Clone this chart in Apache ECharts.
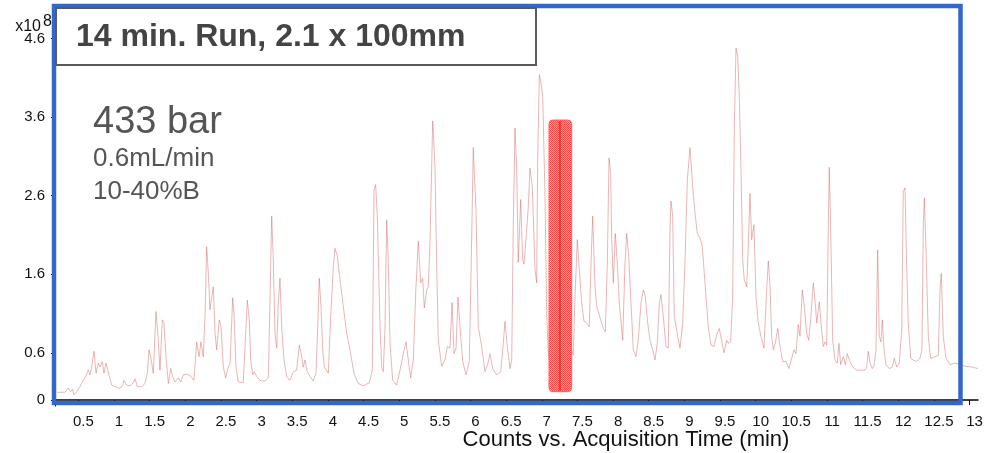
<!DOCTYPE html>
<html>
<head>
<meta charset="utf-8">
<script src="https://cdn.jsdelivr.net/npm/echarts@6/dist/echarts.min.js"></script>
<style>
  html, body { margin: 0; padding: 0; background: #ffffff; }
  #chart { width: 986px; height: 453px; }
</style>
</head>
<body>
<div id="chart"></div>
<script>
// Tick positions (minutes) and their labels on the time axis
const xTickValues = [0.5, 1, 1.5, 2, 2.5, 3, 3.5, 4, 4.5, 5, 5.5, 6, 6.5, 7, 7.5, 8, 8.5, 9, 9.5, 10, 10.5, 11, 11.5, 12, 12.5, 13];
// Intensity ticks, in units of 10^8 counts
const yTickValues = [0, 0.6, 1.6, 2.6, 3.6, 4.6];

// Total ion chromatogram: [retention time (min), counts x 10^8]
const tic = [
  [0.205,0.097],[0.313,0.10],[0.359,0.15],[0.393,0.106],[0.421,0.136],[0.439,0.064],[0.477,0.106],[0.523,0.17],
  [0.569,0.25],[0.607,0.306],[0.640,0.38],[0.663,0.32],[0.687,0.42],[0.720,0.62],[0.748,0.34],[0.780,0.47],
  [0.804,0.42],[0.836,0.49],[0.860,0.34],[0.888,0.47],[0.906,0.446],[0.934,0.30],[0.968,0.19],[1.014,0.17],
  [1.084,0.145],[1.122,0.19],[1.140,0.25],[1.178,0.19],[1.224,0.178],[1.271,0.22],[1.295,0.27],[1.327,0.17],
  [1.388,0.17],[1.435,0.21],[1.467,0.34],[1.491,0.64],[1.515,0.55],[1.551,0.34],[1.589,1.125],[1.621,0.76],
  [1.645,0.38],[1.677,1.02],[1.701,0.98],[1.729,0.55],[1.762,0.21],[1.795,0.40],[1.823,0.30],[1.856,0.23],
  [1.902,0.28],[1.935,0.23],[1.972,0.32],[2.020,0.33],[2.066,0.31],[2.122,0.25],[2.160,0.74],[2.192,0.55],
  [2.220,0.74],[2.252,0.55],[2.276,1.06],[2.300,1.95],[2.323,1.61],[2.346,1.15],[2.393,1.44],[2.417,0.85],
  [2.440,0.64],[2.477,1.02],[2.501,0.93],[2.533,0.42],[2.567,0.28],[2.603,0.42],[2.627,0.47],[2.665,1.30],
  [2.683,1.10],[2.711,0.42],[2.743,0.23],[2.813,0.22],[2.842,0.76],[2.870,1.27],[2.898,1.02],[2.917,0.51],
  [2.945,0.32],[2.968,0.36],[3.001,0.30],[3.048,0.25],[3.118,0.24],[3.164,0.28],[3.188,1.27],[3.212,2.34],
  [3.234,1.78],[3.258,0.85],[3.282,0.66],[3.304,1.23],[3.328,1.55],[3.352,0.93],[3.384,0.51],[3.422,0.30],
  [3.468,0.25],[3.515,0.36],[3.562,0.38],[3.599,0.70],[3.633,0.55],[3.655,0.42],[3.679,0.51],[3.711,0.36],
  [3.749,0.30],[3.795,0.24],[3.833,0.34],[3.857,0.93],[3.879,1.55],[3.903,1.19],[3.927,0.64],[3.950,0.42],
  [4.006,0.34],[4.039,1.06],[4.076,1.70],[4.100,1.93],[4.132,1.83],[4.170,1.53],[4.216,1.19],[4.264,0.85],
  [4.310,0.64],[4.366,0.34],[4.426,0.21],[4.497,0.18],[4.581,0.22],[4.623,0.38],[4.647,2.67],[4.670,2.74],
  [4.693,2.34],[4.717,1.49],[4.731,0.93],[4.755,0.42],[4.777,0.36],[4.801,0.93],[4.825,2.29],[4.847,1.78],
  [4.871,0.72],[4.909,0.25],[4.965,0.19],[5.011,0.38],[5.058,0.59],[5.095,0.74],[5.128,0.51],[5.161,0.28],
  [5.198,0.51],[5.231,1.36],[5.268,2.02],[5.302,1.49],[5.330,1.55],[5.352,1.17],[5.386,1.40],[5.408,1.44],
  [5.432,2.0],[5.470,3.55],[5.502,2.97],[5.526,1.70],[5.548,0.76],[5.596,0.43],[5.642,0.51],[5.675,0.68],
  [5.712,0.66],[5.741,1.24],[5.769,0.59],[5.797,0.66],[5.825,1.31],[5.853,0.93],[5.891,0.49],[5.937,0.32],
  [5.983,0.49],[6.017,2.08],[6.039,3.21],[6.077,2.42],[6.109,0.93],[6.157,0.68],[6.203,0.36],[6.241,0.45],
  [6.273,0.59],[6.311,0.40],[6.367,0.32],[6.424,0.36],[6.452,0.64],[6.484,1.0],[6.516,0.68],[6.554,0.40],
  [6.578,0.51],[6.600,2.21],[6.624,3.46],[6.648,2.93],[6.670,1.75],[6.704,2.55],[6.732,1.78],[6.750,1.73],
  [6.778,2.04],[6.811,2.46],[6.834,2.95],[6.867,2.72],[6.905,1.66],[6.928,1.49],[6.942,3.01],[6.965,4.14],
  [6.989,4.03],[7.013,3.86],[7.045,2.59],[7.069,1.10],[7.091,0.59],[7.129,0.40],[7.185,0.45],[7.241,0.9],
  [7.290,2.0],[7.325,2.34],[7.353,1.5],[7.395,0.7],[7.442,0.57],[7.466,1.32],[7.498,2.04],[7.526,1.66],
  [7.560,1.23],[7.592,1.0],[7.630,0.98],[7.666,0.93],[7.690,1.74],[7.714,2.34],[7.746,1.44],[7.770,1.19],
  [7.792,1.21],[7.826,1.02],[7.863,0.91],[7.891,0.87],[7.919,1.74],[7.943,3.08],[7.966,2.89],[7.980,2.08],
  [8.003,1.49],[8.031,2.12],[8.059,1.74],[8.087,1.23],[8.135,0.76],[8.167,1.74],[8.191,2.12],[8.219,1.83],
  [8.247,1.32],[8.283,0.64],[8.321,0.55],[8.353,0.76],[8.391,1.23],[8.424,1.40],[8.452,1.32],[8.480,1.02],
  [8.518,0.76],[8.555,0.64],[8.588,0.51],[8.620,0.72],[8.648,1.23],[8.672,1.34],[8.704,1.06],[8.742,0.68],
  [8.774,0.66],[8.798,2.17],[8.812,2.53],[8.836,2.34],[8.858,1.06],[8.906,0.81],[8.938,0.66],[8.976,0.98],
  [9.008,1.74],[9.041,2.80],[9.079,3.21],[9.116,2.72],[9.149,2.38],[9.181,2.12],[9.219,2.06],[9.251,1.95],
  [9.289,1.49],[9.335,0.93],[9.373,0.70],[9.415,0.68],[9.453,0.83],[9.489,0.91],[9.523,0.76],[9.555,0.60],
  [9.593,0.76],[9.616,0.72],[9.649,0.74],[9.677,1.32],[9.700,3.44],[9.724,4.48],[9.748,4.37],[9.770,3.86],
  [9.794,2.93],[9.818,1.78],[9.840,1.53],[9.874,1.44],[9.896,1.95],[9.920,2.63],[9.944,2.04],[9.976,2.23],
  [10.004,1.32],[10.036,0.98],[10.074,0.81],[10.116,0.66],[10.154,1.40],[10.177,1.77],[10.201,1.44],[10.224,0.81],
  [10.247,0.64],[10.275,0.72],[10.309,0.91],[10.341,0.68],[10.379,0.49],[10.425,0.49],[10.463,0.40],[10.505,0.53],
  [10.537,0.64],[10.565,0.59],[10.597,0.96],[10.621,0.81],[10.654,1.40],[10.682,1.19],[10.715,0.85],[10.743,0.76],
  [10.771,1.02],[10.808,1.49],[10.836,1.23],[10.856,0.98],[10.892,1.25],[10.916,0.98],[10.948,0.68],[10.972,0.74],
  [10.996,0.70],[11.018,2.17],[11.032,2.96],[11.052,2.17],[11.080,0.76],[11.112,0.51],[11.144,0.47],[11.168,0.72],
  [11.192,0.45],[11.229,0.55],[11.257,0.45],[11.285,0.59],[11.313,0.51],[11.361,0.42],[11.416,0.38],[11.439,0.38],
  [11.533,0.38],[11.557,0.42],[11.579,0.62],[11.603,0.47],[11.635,0.40],[11.663,0.45],[11.687,0.64],[11.711,1.91],
  [11.733,0.81],[11.757,0.74],[11.776,1.02],[11.800,0.64],[11.828,0.45],[11.874,0.40],[11.916,0.42],[11.944,0.53],
  [11.978,0.42],[12.014,0.47],[12.048,0.89],[12.070,2.65],[12.094,2.70],[12.118,1.70],[12.140,0.98],[12.174,0.53],
  [12.210,0.51],[12.258,0.49],[12.304,0.53],[12.332,0.64],[12.351,2.25],[12.365,2.57],[12.389,1.91],[12.421,0.81],
  [12.454,0.53],[12.515,0.55],[12.561,0.57],[12.585,1.40],[12.603,1.61],[12.631,0.81],[12.669,0.53],[12.725,0.45],
  [12.795,0.47],[12.866,0.45],[12.935,0.43],[13.029,0.42],[13.118,0.40]
];

// Highlighted time window: [start min, end min, low, high, centre min]
const markedWindow = [[7.101, 7.419, 0.106, 3.562, 7.255]];

const titleText = '14 min. Run, 2.1 x 100mm';
const methodLines = ['433 bar', '0.6mL/min', '10-40%B'];
const xAxisTitle = 'Counts vs. Acquisition Time (min)';

const FONT = '"Liberation Sans", Arial, Helvetica, sans-serif';

// Small checker used to fill the highlighted window
function dotPattern() {
  const c = document.createElement('canvas');
  c.width = 2; c.height = 2;
  const g = c.getContext('2d');
  g.fillStyle = '#ffa6a6';
  g.fillRect(0, 0, 2, 2);
  g.fillStyle = '#ff3a3a';
  g.fillRect(0, 0, 1, 1);
  g.fillRect(1, 1, 1, 1);
  return c;
}
const dots = dotPattern();

const chart = echarts.init(document.getElementById('chart'), null, { renderer: 'canvas' });

chart.setOption({
  animation: false,
  backgroundColor: '#ffffff',
  grid: { left: 55, right: 8, top: 7, bottom: 47, containLabel: false },
  xAxis: {
    type: 'value',
    min: 0.1725,
    max: 13.118,
    axisLine: { show: true, lineStyle: { color: '#000', width: 1.5 } },
    axisTick: { show: true, customValues: xTickValues, length: 5, lineStyle: { color: '#000', width: 1 } },
    axisLabel: {
      customValues: xTickValues,
      color: '#111',
      fontFamily: FONT,
      fontSize: 15,
      margin: 8,
      padding: [0, 0, 0, 10]
    },
    splitLine: { show: false }
  },
  yAxis: {
    type: 'value',
    min: -0.0763,
    max: 5.0,
    axisLine: { show: true, lineStyle: { color: '#000', width: 1 } },
    axisTick: { show: true, customValues: yTickValues, length: 4, lineStyle: { color: '#000', width: 1 } },
    axisLabel: {
      customValues: yTickValues,
      color: '#111',
      fontFamily: FONT,
      fontSize: 15,
      margin: 10
    },
    splitLine: { show: false }
  },
  series: [
    {
      type: 'line',
      name: 'TIC',
      data: tic,
      showSymbol: false,
      symbol: 'none',
      smooth: false,
      z: 2,
      lineStyle: { color: 'rgba(210, 90, 90, 0.45)', width: 1 }
    },
    {
      type: 'custom',
      name: 'window',
      data: markedWindow,
      z: 5,
      renderItem: function (params, api) {
        const tl = api.coord([api.value(0), api.value(3)]);
        const br = api.coord([api.value(1), api.value(2)]);
        const mid = api.coord([api.value(4), api.value(3)]);
        return {
          type: 'group',
          children: [
            {
              type: 'rect',
              shape: { x: tl[0], y: tl[1], width: br[0] - tl[0], height: br[1] - tl[1], r: 4 },
              style: { fill: { image: dots, repeat: 'repeat' }, stroke: '#ff5a5a', lineWidth: 1, opacity: 0.95 }
            },
            {
              type: 'line',
              shape: { x1: mid[0], y1: tl[1] + 1, x2: mid[0], y2: br[1] - 1 },
              style: { stroke: '#e01818', lineWidth: 1.2 }
            }
          ]
        };
      }
    }
  ],
  graphic: [
    {
      type: 'rect', z: 50,
      shape: { x: 54, y: 6, width: 906.5, height: 397 },
      style: { fill: 'rgba(0,0,0,0)', stroke: '#3268c9', lineWidth: 4.5 }
    },
    {
      type: 'rect', z: 60,
      shape: { x: 56, y: 8, width: 480, height: 57 },
      style: { fill: '#ffffff', stroke: '#5a5a5a', lineWidth: 2 }
    },
    {
      type: 'text', z: 61, x: 76, y: 37,
      style: { text: titleText, font: 'bold 32px ' + FONT, fill: '#444444', verticalAlign: 'middle' }
    },
    {
      type: 'text', z: 61, x: 93, y: 123,
      style: { text: methodLines[0], font: '38px ' + FONT, fill: '#555555', verticalAlign: 'middle' }
    },
    {
      type: 'text', z: 61, x: 93, y: 159,
      style: { text: methodLines[1], font: '26px ' + FONT, fill: '#555555', verticalAlign: 'middle' }
    },
    {
      type: 'text', z: 61, x: 93, y: 192,
      style: { text: methodLines[2], font: '26px ' + FONT, fill: '#555555', verticalAlign: 'middle' }
    },
    {
      type: 'text', z: 61, x: 41, y: 27,
      style: { text: 'x10', font: '16px ' + FONT, fill: '#111', align: 'right', verticalAlign: 'middle' }
    },
    {
      type: 'text', z: 61, x: 43, y: 22,
      style: { text: '8', font: '16px ' + FONT, fill: '#111', align: 'left', verticalAlign: 'middle' }
    },
    {
      type: 'text', z: 61, x: 626, y: 440,
      style: { text: xAxisTitle, font: '22px ' + FONT, fill: '#111', align: 'center', verticalAlign: 'middle' }
    }
  ]
});
</script>
</body>
</html>
